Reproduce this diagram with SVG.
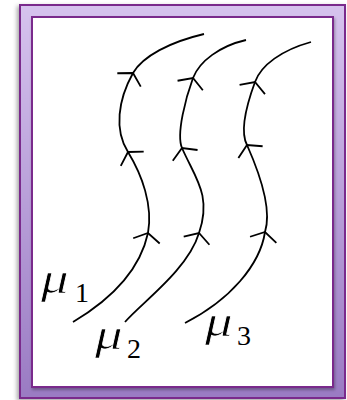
<svg xmlns="http://www.w3.org/2000/svg" width="347" height="400" viewBox="0 0 347 400">
<defs>
<linearGradient id="frameGrad" x1="0" y1="0" x2="0" y2="1">
<stop offset="0" stop-color="#d6c3ee"/>
<stop offset="1" stop-color="#9a7bc3"/>
</linearGradient>
<filter id="shadow" x="-10%" y="-10%" width="120%" height="120%">
<feDropShadow dx="-2" dy="2" stdDeviation="2" flood-color="#000" flood-opacity="0.35"/>
</filter>
<filter id="innerShadow" x="-10%" y="-10%" width="120%" height="120%">
<feDropShadow dx="1" dy="2" stdDeviation="1.5" flood-color="#000" flood-opacity="0.3"/>
</filter>
<marker id="chev" viewBox="-12 -16 16 32" markerWidth="16" markerHeight="32" refX="0" refY="0" orient="auto" markerUnits="userSpaceOnUse" overflow="visible">
<path d="M-8,-13.5 L0,0 L-8,13.5" fill="none" stroke="#000" stroke-width="1.8" stroke-linecap="butt" stroke-linejoin="miter"/>
</marker>
<style>
.frame{fill:url(#frameGrad);stroke:#7a2b8c;stroke-width:2;fill-rule:evenodd}
.inner{fill:#fff;stroke:#7a2b8c;stroke-width:2}
.curve{fill:none;stroke:#000;stroke-width:1.8;marker-mid:url(#chev)}
.mu{font-family:"Liberation Serif","Times New Roman",serif;font-style:italic;font-size:44px;fill:#000;stroke:#fff;stroke-width:0.7;paint-order:fill}
.sub{font-family:"Liberation Serif","Times New Roman",serif;font-size:28px;fill:#000}
</style>
</defs>
<g id="frame">
<path class="frame" filter="url(#shadow)" d="M20,5 H345 V398 H20 Z M32,17 V387 H333 V17 Z"/>
<rect class="inner" x="32" y="17" width="301" height="370" filter="url(#innerShadow)"/>
</g>
<g id="connectors">
<path id="curve1" class="curve" d="M73,322 C110,300 140,270 148,233 C153,205 142,175 128,152 C114,130 118,100 133,73 C143,56 170,42 204,34"/>
<path id="curve2" class="curve" d="M125,322 C140,304 188,270 199,233 C212,195 195,178 182,148 C176,134 186,97 193,78 C199.5,61 220,46 246,40"/>
<path id="curve3" class="curve" d="M185,323 C230,300 260,265 265,232 C272.5,208 257,167.5 247,145 C239,130 248,101 255,82 C261,65 282,50 311,42"/>
</g>
<g id="label1"><text class="mu" transform="translate(41,293) scale(1.25,1)">μ</text><text class="sub" x="75" y="302">1</text></g>
<g id="label2"><text class="mu" transform="translate(95,349) scale(1.25,1)">μ</text><text class="sub" x="127" y="358">2</text></g>
<g id="label3"><text class="mu" transform="translate(205,336) scale(1.25,1)">μ</text><text class="sub" x="237" y="345">3</text></g>
</svg>
